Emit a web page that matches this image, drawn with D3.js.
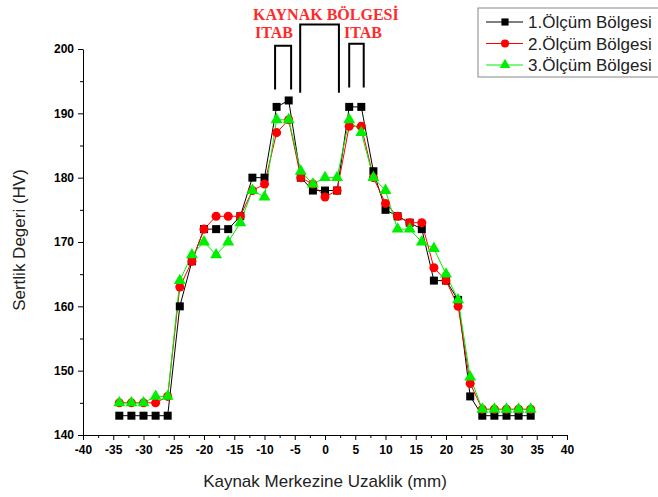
<!DOCTYPE html>
<html>
<head>
<meta charset="utf-8">
<script src="https://cdn.jsdelivr.net/npm/d3@7"></script>
<style>
  body { margin: 0; background: #fff; }
  svg { display: block; }
  .axis text { font-family: "Liberation Sans", Arial, sans-serif; font-size: 12px; font-weight: bold; fill: #000; }
  .axis path, .axis line { stroke: #000; stroke-width: 1; }
</style>
</head>
<body>
<svg class="chart"></svg>
<script>
var distances = [-34, -32, -30, -28, -26, -24, -22, -20, -18, -16, -14, -12, -10, -8, -6, -4, -2,
  0, 2, 4, 6, 8, 10, 12, 14, 16, 18, 20, 22, 24, 26, 28, 30, 32, 34];

var bolge1 = [143, 143, 143, 143, 143, 160, 167, 172, 172, 172, 174, 180, 180, 191, 192, 180, 178,
  178, 178, 191, 191, 181, 175, 174, 173, 172, 164, 164, 161, 146, 143, 143, 143, 143, 143];
var bolge2 = [145, 145, 145, 145, 146, 163, 167, 172, 174, 174, 174, 178, 179, 187, 189, 180, 179,
  177, 178, 188, 188, 180, 176, 174, 173, 173, 166, 164, 160, 148, 144, 144, 144, 144, 144];
var bolge3 = [145, 145, 145, 146, 146, 164, 168, 170, 168, 170, 173, 178, 177, 189, 189, 181, 179,
  180, 180, 189, 187, 180, 178, 172, 172, 170, 169, 165, 161, 149, 144, 144, 144, 144, 144];

var seriesNames = ["1.Ölçüm Bölgesi", "2.Ölçüm Bölgesi", "3.Ölçüm Bölgesi"];
var xTicks = [-40, -35, -30, -25, -20, -15, -10, -5, 0, 5, 10, 15, 20, 25, 30, 35, 40];
var yTicks = [140, 150, 160, 170, 180, 190, 200];

var width = 658,
    height = 497,
    margin = { top: 49, right: 91, bottom: 62, left: 83 };

var chart = d3.select(".chart").attr("width", width).attr("height", height);

var x = d3.scaleLinear().domain([-40, 40]).range([margin.left, width - margin.right]);
var y = d3.scaleLinear().domain([140, 200]).range([height - margin.bottom, margin.top]);

// plain hyphen for negatives, like the original
var fmt = function(d) { return String(d); };

// minor ticks first, then the labelled axes
chart.append("g")
  .attr("class", "axis")
  .attr("transform", "translate(0," + y(140) + ")")
  .call(d3.axisBottom(x).tickValues(d3.range(-37.5, 40, 5)).tickSize(3).tickFormat(""))
  .select(".domain").remove();
chart.append("g")
  .attr("class", "axis")
  .attr("transform", "translate(" + x(-40) + ",0)")
  .call(d3.axisLeft(y).tickValues(d3.range(145, 200, 10)).tickSize(3).tickFormat(""))
  .select(".domain").remove();

chart.append("g")
  .attr("class", "axis")
  .attr("transform", "translate(0," + y(140) + ")")
  .call(d3.axisBottom(x).tickValues(xTicks).tickSize(5).tickPadding(5).tickSizeOuter(0).tickFormat(fmt));

chart.append("g")
  .attr("class", "axis")
  .attr("transform", "translate(" + x(-40) + ",0)")
  .call(d3.axisLeft(y).tickValues(yTicks).tickSize(5).tickPadding(4).tickSizeOuter(0).tickFormat(fmt));

// axis titles
chart.append("text")
  .attr("x", x(0))
  .attr("y", 487)
  .attr("text-anchor", "middle")
  .style("font-family", "Liberation Sans, Arial, sans-serif")
  .style("font-size", "17px")
  .attr("fill", "#222")
  .text("Kaynak Merkezine Uzaklik (mm)");

chart.append("text")
  .attr("transform", "translate(25," + (y(170) - 2) + ") rotate(-90)")
  .attr("text-anchor", "middle")
  .style("font-family", "Liberation Sans, Arial, sans-serif")
  .style("font-size", "17px")
  .attr("fill", "#222")
  .text("Sertlik Degeri (HV)");

var series = [
  { name: seriesNames[0], values: bolge1, color: "#000000", symbol: d3.symbolSquare, size: 64 },
  { name: seriesNames[1], values: bolge2, color: "#ff0000", symbol: d3.symbolCircle, size: 64 },
  { name: seriesNames[2], values: bolge3, color: "#00ee00", symbol: d3.symbolTriangle, size: 62 }
];

var line = d3.line()
  .x(function(d, i) { return x(distances[i]); })
  .y(function(d) { return y(d); });

// draw lines of all series, then markers
series.forEach(function(s) {
  chart.append("path")
    .attr("d", line(s.values))
    .attr("fill", "none")
    .attr("stroke", s.color)
    .attr("stroke-width", 1);
});

series.forEach(function(s) {
  chart.append("g")
    .selectAll("path")
    .data(s.values)
    .enter()
    .append("path")
    .attr("d", d3.symbol().type(s.symbol).size(s.size))
    .attr("fill", s.color)
    .attr("transform", function(d, i) {
      return "translate(" + x(distances[i]) + "," + y(d) + ")";
    });
});

// legend
var legend = chart.append("g").attr("transform", "translate(478,8)");
legend.append("rect")
  .attr("width", 190)
  .attr("height", 69)
  .attr("fill", "#fff")
  .attr("stroke", "#888")
  .attr("stroke-width", 1);

series.forEach(function(s, i) {
  var row = legend.append("g").attr("transform", "translate(0," + (14 + i * 21.5) + ")");
  row.append("line")
    .attr("x1", 8).attr("x2", 45)
    .attr("stroke", s.color).attr("stroke-width", 1);
  row.append("path")
    .attr("d", d3.symbol().type(s.symbol).size(s.size * 0.8))
    .attr("fill", s.color)
    .attr("transform", "translate(27,0)");
  row.append("text")
    .attr("x", 50)
    .attr("dy", "0.36em")
    .style("font-family", "Liberation Sans, Arial, sans-serif")
    .style("font-size", "17px")
    .attr("fill", "#222")
    .text(s.name);
});

// weld zone annotations
var brackets = [
  { x0: -8.25, x1: -5.6, top: 200.5, bottom: 193.7 },
  { x0: -4.1, x1: 2.3, top: 203.8, bottom: 193.2 },
  { x0: 4.0, x1: 6.4, top: 200.8, bottom: 194.0 }
];
brackets.forEach(function(b) {
  chart.append("path")
    .attr("d", "M" + x(b.x0) + "," + y(b.bottom) + "V" + y(b.top) + "H" + x(b.x1) + "V" + y(b.bottom))
    .attr("fill", "none")
    .attr("stroke", "#000")
    .attr("stroke-width", 2);
});

var notes = [
  { text: "KAYNAK BÖLGESİ", x: 253, y: 20 },
  { text: "ITAB", x: 255, y: 38 },
  { text: "ITAB", x: 344, y: 38 }
];
chart.selectAll(".note")
  .data(notes)
  .enter()
  .append("text")
  .attr("class", "note")
  .attr("x", function(d) { return d.x; })
  .attr("y", function(d) { return d.y; })
  .style("font-family", "Liberation Serif, Times New Roman, serif")
  .style("font-size", "16px")
  .style("font-weight", "bold")
  .attr("fill", "#ff2a2a")
  .text(function(d) { return d.text; });
</script>
</body>
</html>
